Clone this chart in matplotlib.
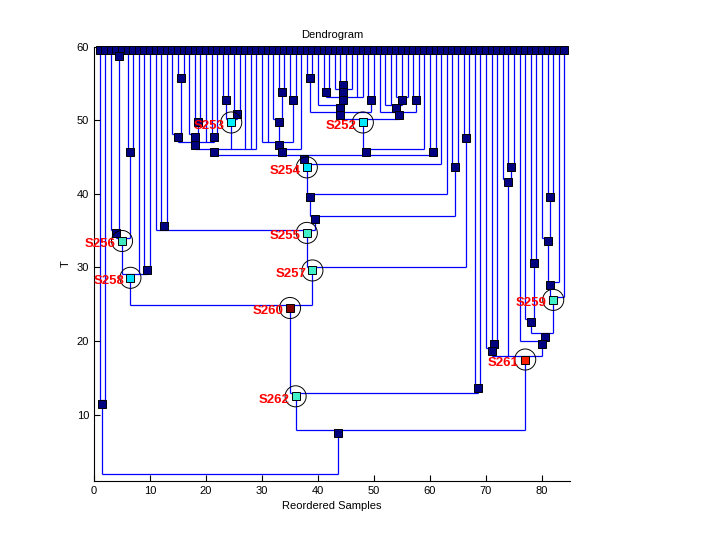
import matplotlib.pyplot as plt
import numpy as np

plt.rcParams['font.family'] = ['Liberation Sans', 'DejaVu Sans']

n_leaves = 84
leaf_height = 59.6
join_offset = 0.45

# internal nodes: name -> (children, height); integers are leaf positions
nodes = {
    "a45": ([4, 5], 58.7),
    "b3": ([3, "a45"], 34.7),
    "n67": ([6, 7], 45.7),
    "S256": (["b3", "n67"], 33.6),
    "n910": ([9, 10], 29.6),
    "S258": (["S256", 8, "n910"], 28.6),
    "n1213": ([12, 13], 35.6),
    "n1516": ([15, 16], 55.7),
    "p14": ([14, "n1516"], 47.7),
    "n1819": ([18, 19], 49.7),
    "p17": ([17, "n1819"], 47.7),
    "n2122": ([21, 22], 47.7),
    "f14": (["p14", "p17", 20, "n2122"], 46.6),
    "n2324": ([23, 24], 52.7),
    "n2526": ([25, 26], 50.8),
    "S253": (["n2324", "n2526"], 49.7),
    "g14": (["f14", "S253", 27, 28, 29], 45.7),
    "n3334": ([33, 34], 53.8),
    "n3536": ([35, 36], 52.7),
    "q32": ([32, "n3334"], 49.7),
    "h30": ([30, 31, "q32", "n3536"], 46.6),
    "i30": (["h30", 37], 45.7),
    "n3839": ([38, 39], 55.7),
    "n4142": ([41, 42], 53.8),
    "n4445": ([44, 45], 54.8),
    "d43": ([43, "n4445", 46], 53.8),
    "e41": (["n4142", "d43", 47, 48], 52.7),
    "f40": ([40, "e41"], 51.6),
    "n4950": ([49, 50], 52.7),
    "g38": (["n3839", "f40", "n4950"], 50.7),
    "n545556": ([54, 55, 56], 52.7),
    "n5758": ([57, 58], 52.7),
    "k52": ([52, 53, "n545556"], 51.6),
    "l51": ([51, "k52", "n5758"], 50.7),
    "S252": (["g38", "l51"], 49.7),
    "l38": (["S252", 59], 45.7),
    "m60": ([60, 61], 45.7),
    "j14": (["g14", "i30", "l38", "m60"], 44.8),
    "S254": (["j14", 62], 43.6),
    "n14_63": (["S254", 63], 39.6),
    "n6465": ([64, 65], 43.6),
    "e14": (["n14_63", "n6465"], 36.6),
    "S255": ([11, "n1213", "e14"], 34.7),
    "n6667": ([66, 67], 47.6),
    "S257": (["S255", "n6667"], 29.6),
    "S260": (["S258", "S257"], 24.5),
    "n6869": ([68, 69], 13.6),
    "S262": (["S260", "n6869"], 12.5),
    "n7475": ([74, 75], 43.6),
    "r73": ([73, "n7475"], 41.6),
    "n7172": ([71, 72], 19.6),
    "r70": ([70, "n7172"], 18.6),
    "n8182": ([81, 82], 39.6),
    "t80": ([80, "n8182"], 33.6),
    "t83": (["t80", 83], 27.6),
    "S259": (["t83", 84], 25.6),
    "n7879": ([78, 79], 30.6),
    "u77": ([77, "n7879"], 22.6),
    "v77": (["u77", "S259"], 20.6),
    "w76": ([76, "v77"], 19.6),
    "S261": (["r70", "r73", "w76"], 17.5),
    "x3": (["S262", "S261"], 7.5),
    "n12": ([1, 2], 11.5),
    "root": (["n12", "x3"], 1.55),
}

highlight = ["S252", "S253", "S254", "S255", "S256", "S257",
             "S258", "S259", "S260", "S261", "S262"]
highlight_colors = {
    "S252": "#00E8FF", "S253": "#00F0FF", "S254": "#00E0FF",
    "S255": "#40F0C8", "S256": "#40E8C0", "S257": "#40F0C8",
    "S258": "#00E0FF", "S259": "#40F0C8", "S260": "#800000",
    "S261": "#FF2000", "S262": "#40F0C8",
}


def leaves_of(n):
    if isinstance(n, int):
        return [n]
    out = []
    for c in nodes[n][0]:
        out += leaves_of(c)
    return out


def xpos(n):
    return np.mean(leaves_of(n))


def top(n):
    if isinstance(n, int):
        return leaf_height
    return nodes[n][1] + join_offset


fig = plt.figure(figsize=(7.2, 5.4), dpi=100)
ax = fig.add_axes([0.1306, 0.1093, 0.6611, 0.8043])

line_kw = dict(color="#0000FF", lw=0.9, zorder=1, solid_capstyle="butt")
for name, (children, h) in nodes.items():
    yj = h + join_offset
    xs = [xpos(c) for c in children]
    ax.plot([min(xs), max(xs)], [yj, yj], **line_kw)
    for c in children:
        ax.plot([xpos(c), xpos(c)], [top(c), yj], **line_kw)

sq_kw = dict(marker="s", ms=5.4, mec="black", mew=0.7, ls="none",
             zorder=3, clip_on=False)
leaf_x = np.arange(1, n_leaves + 1)
ax.plot(leaf_x, np.full(n_leaves, leaf_height), mfc="#000080", **sq_kw)

for name, (children, h) in nodes.items():
    if name == "root":
        continue
    x = xpos(name)
    if name in highlight:
        ax.plot([x], [h], mfc=highlight_colors[name], **sq_kw)
        ax.scatter([x], [h], s=230, facecolors="none", edgecolors="black",
                   linewidths=0.7, zorder=4)
        ax.annotate(name, (x, h), xytext=(-4.5, -2.5), textcoords="offset points",
                    ha="right", va="center", color="red", fontweight="bold",
                    fontsize=9.5, zorder=5)
    else:
        ax.plot([x], [h], mfc="#000080", **sq_kw)

ax.set_xlim(0, 85)
ax.set_ylim(1, 60)
ax.set_xticks(np.arange(0, 81, 10))
ax.set_yticks(np.arange(10, 61, 10))
ax.spines["top"].set_visible(False)
ax.spines["right"].set_visible(False)
ax.tick_params(direction="in", length=4, labelsize=8)
ax.set_title("Dendrogram", fontsize=8)
ax.set_xlabel("Reordered Samples", fontsize=8)
ax.set_ylabel("T", fontsize=8)

fig.savefig("out.png", dpi=100)
